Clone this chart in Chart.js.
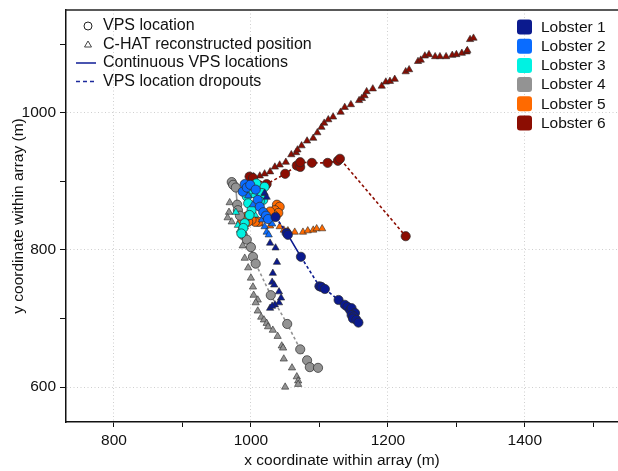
<!DOCTYPE html>
<html>
<head>
<meta charset="utf-8">
<script src="https://cdn.jsdelivr.net/npm/chart.js@4.4.1/dist/chart.umd.min.js"></script>
<style>
  html, body { margin: 0; padding: 0; background: #fff; overflow: hidden; }
  #wrap { width: 618px; height: 471px; }
</style>
</head>
<body>
<div id="wrap"><canvas id="chart"></canvas></div>
<script>
const xTicks = [800, 900, 1000, 1100, 1200, 1300, 1400, 1500];
const yTicks = [600, 700, 800, 900, 1000, 1100];
const xLabelTicks = [800, 1000, 1200, 1400];
const yLabelTicks = [600, 800, 1000];

const lobsterNames = ['Lobster 1', 'Lobster 2', 'Lobster 3', 'Lobster 4', 'Lobster 5', 'Lobster 6'];
const lobsterColors = ['#0b1a8e', '#0a6cff', '#00f2e2', '#939393', '#ff6a00', '#8c0d02'];

// VPS locations [x, y] in track order
const vps1 = [[1036, 848], [1052, 825], [1054, 822], [1073, 790], [1100, 747], [1103, 746], [1108, 743],
  [1128, 727], [1137, 720], [1141, 717], [1145, 712], [1147, 715], [1152, 708], [1147, 705],
  [1150, 703], [1149, 700], [1154, 698], [1157, 694]];
const vps2 = [[988, 885], [991, 896], [994, 891], [999, 895], [1007, 888], [1010, 873], [1013, 863],
  [1018, 855], [1022, 850], [1025, 845]];
const vps3 = [[1008, 897], [1020, 892], [1016, 883], [1018, 873], [1013, 871], [1003, 883], [999, 888],
  [994, 878], [996, 868], [1001, 858], [998, 851], [991, 839], [989, 832], [986, 824]];
const vps4 = [[972, 899], [974, 895], [978, 891], [980, 866], [981, 858], [984, 850], [988, 822],
  [994, 815], [1000, 804], [1003, 790], [1007, 780], [1029, 734], [1053, 692], [1072, 655],
  [1082, 639], [1086, 629], [1098, 628]];
const vps5 = [[1038, 866], [1042, 863], [1035, 858], [1040, 854], [1033, 851], [1028, 856], [1011, 841],
  [1006, 841], [1001, 844], [996, 841], [994, 849], [989, 844], [986, 839]];
const vps6 = [[998, 907], [1003, 905], [1023, 896], [1050, 911], [1067, 923], [1072, 921], [1072, 928],
  [1089, 927], [1112, 927], [1127, 930], [1130, 933], [1226, 820]];

// segments (index of first point) that are VPS dropouts
const gaps1 = [0, 3, 6];
const gaps2 = [];
const gaps3 = [];
const gaps4 = [10, 11, 12, 13];
const gaps5 = [];
const gaps6 = [0, 1, 2, 3, 4, 5, 6, 7, 8, 9, 10];

// C-HAT reconstructed positions [x, y]
const chat1 = [[1020, 883], [1023, 877], [1028, 810], [1036, 803], [1038, 782], [1032, 766], [1031, 753],
  [1034, 749], [1041, 739], [1044, 730], [1041, 723], [1035, 720], [1028, 715], [1031, 718]];
const chat2 = [[996, 879], [1003, 866], [1016, 844], [1031, 838], [1020, 834], [1023, 826], [1026, 822]];
const chat3 = [[978, 855], [1006, 851], [991, 834], [981, 836], [984, 829]];
const chat4 = [[969, 869], [968, 855], [966, 847], [972, 841], [988, 806], [991, 788], [996, 774],
  [1000, 759], [1003, 746], [1004, 734], [1010, 727], [1007, 723], [1010, 711], [1015, 702],
  [1019, 698], [1023, 693], [1025, 688], [1032, 683], [1039, 674], [1045, 660], [1047, 657],
  [1048, 641], [1060, 628], [1067, 615], [1069, 609], [1069, 604], [1050, 600]];
const chat5 = [[988, 847], [1013, 838], [1028, 835], [1042, 834], [1048, 829], [1054, 828], [1064, 826],
  [1076, 826], [1083, 828], [1091, 829], [1096, 831], [1104, 831]];
const chat6 = [[1004, 907], [1013, 908], [1020, 911], [1028, 914], [1035, 921], [1042, 924], [1051, 928],
  [1059, 939], [1066, 942], [1068, 946], [1074, 952], [1082, 959], [1091, 963], [1097, 971],
  [1103, 979], [1107, 985], [1113, 990], [1120, 994], [1131, 1001], [1137, 1008], [1146, 1012],
  [1158, 1018], [1162, 1021], [1166, 1025], [1169, 1031], [1178, 1035], [1191, 1039], [1197, 1045],
  [1203, 1046], [1210, 1049], [1226, 1060], [1231, 1063], [1244, 1075], [1248, 1077], [1254, 1083],
  [1260, 1085], [1269, 1082], [1276, 1082], [1285, 1082], [1294, 1084], [1300, 1085], [1308, 1087],
  [1315, 1089], [1316, 1091], [1320, 1107], [1325, 1109]];

const vpsTracks = [vps1, vps2, vps3, vps4, vps5, vps6];
const gapTracks = [gaps1, gaps2, gaps3, gaps4, gaps5, gaps6];
const chatTracks = [chat1, chat2, chat3, chat4, chat5, chat6];

const FONT = '"Liberation Sans", Arial, Helvetica, sans-serif';
const toPts = arr => arr.map(p => ({ x: p[0], y: p[1] }));

const datasets = [];
lobsterNames.forEach((name, i) => {
    const col = lobsterColors[i];
    const gaps = gapTracks[i];
    datasets.push({
        label: name + ' VPS',
        data: toPts(vpsTracks[i]),
        showLine: true,
        borderColor: col,
        borderWidth: 1.6,
        pointStyle: 'circle',
        pointRadius: 4.6,
        pointBackgroundColor: col,
        pointBorderColor: '#2a2a2a',
        pointBorderWidth: 0.7,
        segment: {
            borderDash: c => gaps.includes(c.p0DataIndex) ? [3, 2.5] : []
        }
    });
    datasets.push({
        label: name + ' C-HAT',
        data: toPts(chatTracks[i]),
        showLine: false,
        pointStyle: 'triangle',
        pointRadius: 4.2,
        pointBackgroundColor: col,
        pointBorderColor: '#2a2a2a',
        pointBorderWidth: 0.6
    });
});

// top frame line plus the two legends
const frameAndLegends = {
    id: 'frameAndLegends',
    afterDraw(chart) {
        const { ctx, chartArea: a } = chart;
        ctx.save();
        ctx.strokeStyle = '#222';
        ctx.lineWidth = 1.5;
        ctx.beginPath();
        ctx.moveTo(a.left - 0.75, a.top);
        ctx.lineTo(a.right, a.top);
        ctx.stroke();

        ctx.fillStyle = '#111';
        ctx.textBaseline = 'middle';
        ctx.textAlign = 'left';

        // symbol legend
        const lx = 88, tx = 103;
        const rows = [26, 44.5, 63, 81.5];
        ctx.strokeStyle = '#222';
        ctx.lineWidth = 1;
        ctx.beginPath();
        ctx.arc(lx, rows[0], 4, 0, Math.PI * 2);
        ctx.stroke();
        ctx.strokeStyle = '#444';
        ctx.beginPath();
        ctx.moveTo(lx, rows[1] - 3.5);
        ctx.lineTo(lx + 3.5, rows[1] + 2.5);
        ctx.lineTo(lx - 3.5, rows[1] + 2.5);
        ctx.closePath();
        ctx.stroke();
        ctx.strokeStyle = '#1c2a9c';
        ctx.lineWidth = 1.6;
        ctx.beginPath();
        ctx.moveTo(76, rows[2]);
        ctx.lineTo(96, rows[2]);
        ctx.stroke();
        ctx.setLineDash([4, 3]);
        ctx.beginPath();
        ctx.moveTo(76, rows[3]);
        ctx.lineTo(96, rows[3]);
        ctx.stroke();
        ctx.setLineDash([]);
        ctx.font = '16px ' + FONT;
        ['VPS location', 'C-HAT reconstructed position', 'Continuous VPS locations', 'VPS location dropouts']
            .forEach((t, k) => ctx.fillText(t, tx, rows[k]));

        // lobster legend
        ctx.font = '15.5px ' + FONT;
        lobsterNames.forEach((name, k) => {
            const y = 27 + k * 19.2;
            ctx.fillStyle = lobsterColors[k];
            ctx.beginPath();
            ctx.roundRect(517, y - 7.5, 15, 15, 3);
            ctx.fill();
            ctx.fillStyle = '#111';
            ctx.fillText(name, 541, y + 0.5);
        });
        ctx.restore();
    }
};

new Chart(document.getElementById('chart'), {
    type: 'scatter',
    data: { datasets },
    options: {
        responsive: true,
        maintainAspectRatio: false,
        animation: false,
        layout: { autoPadding: false, padding: { top: 10, right: 0, bottom: 0, left: 0 } },
        plugins: { legend: { display: false }, tooltip: { enabled: false } },
        scales: {
            x: {
                type: 'linear',
                min: 730,
                max: 1536,
                afterBuildTicks: s => { s.ticks = xTicks.map(v => ({ value: v })); },
                afterFit: s => { s.height = 49; s.paddingLeft = 0; s.paddingRight = 0; },
                ticks: {
                    autoSkip: false,
                    maxRotation: 0,
                    padding: 4,
                    color: '#111',
                    font: { family: FONT, size: 15.5 },
                    callback: v => xLabelTicks.includes(v) ? String(v) : ''
                },
                grid: {
                    color: c => c.tick && xLabelTicks.includes(c.tick.value) ? '#cfcfcf' : 'rgba(0,0,0,0)',
                    tickColor: '#111',
                    tickLength: 5,
                    lineWidth: 1
                },
                border: { color: '#111', width: 1.5, dash: [1, 2.5] },
                title: {
                    display: true,
                    text: 'x coordinate within array (m)',
                    color: '#111',
                    font: { family: FONT, size: 15.5 },
                    padding: { top: 0, bottom: 1 }
                }
            },
            y: {
                type: 'linear',
                min: 549,
                max: 1150,
                afterBuildTicks: s => { s.ticks = yTicks.map(v => ({ value: v })); },
                afterFit: s => { s.width = 66; s.paddingTop = 0; s.paddingBottom = 0; },
                ticks: {
                    autoSkip: false,
                    padding: 4,
                    color: '#111',
                    font: { family: FONT, size: 15.5 },
                    callback: v => yLabelTicks.includes(v) ? String(v) : ''
                },
                grid: {
                    color: c => c.tick && yLabelTicks.includes(c.tick.value) ? '#cfcfcf' : 'rgba(0,0,0,0)',
                    tickColor: '#111',
                    tickLength: 6,
                    lineWidth: 1
                },
                border: { color: '#111', width: 1.5, dash: [1, 2.5] },
                title: {
                    display: true,
                    text: 'y coordinate within array (m)',
                    color: '#111',
                    font: { family: FONT, size: 15.5 },
                    padding: { top: 9, bottom: 0 }
                }
            }
        }
    },
    plugins: [frameAndLegends]
});
</script>
</body>
</html>
